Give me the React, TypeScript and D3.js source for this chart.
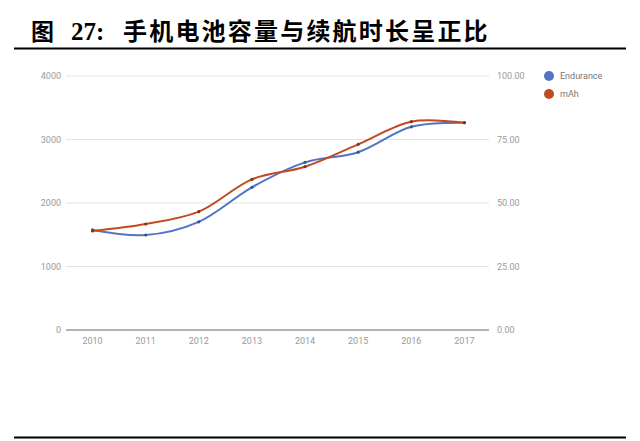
import React from "react";
import * as d3 from "d3";

// values
const years = ["2010", "2011", "2012", "2013", "2014", "2015", "2016", "2017"];
const mAh = [1560, 1669, 1864, 2373, 2572, 2924, 3281, 3265];
const endurance = [39.4, 37.4, 42.6, 56.2, 66.0, 70.0, 80.0, 81.6];
const leftTicks = [0, 1000, 2000, 3000, 4000];
const rightTicks = [0, 25, 50, 75, 100];

const series = [
	{ name: "Endurance", color: "#5274c4", values: endurance, axis: "right" },
	{ name: "mAh", color: "#c04a22", values: mAh, axis: "left" },
];

const W = 640;
const H = 441;
const plot = { left: 66, right: 491, top: 76, bottom: 330 };

export default function App() {
	const x = d3.scalePoint<string>().domain(years).range([plot.left, plot.right]).padding(0.5);
	const yLeft = d3.scaleLinear().domain([0, 4000]).range([plot.bottom, plot.top]);
	const yRight = d3.scaleLinear().domain([0, 100]).range([plot.bottom, plot.top]);

	const lineFor = (s: (typeof series)[number]) => {
		const y = s.axis === "left" ? yLeft : yRight;
		return d3
			.line<number>()
			.x((_, i) => x(years[i])!)
			.y((d) => y(d))
			.curve(d3.curveCatmullRom.alpha(0.5))(s.values)!;
	};

	const axisFont = "Roboto, 'Liberation Sans', Arial, sans-serif";
	const cjk = "'Noto Sans CJK SC'";

	return (
		<svg width={W} height={H} style={{ position: "absolute", left: 0, top: 0, background: "#fff" }}>
			{/* title */}
			<g fill="#000">
				<text x={31} y={40} fontSize={23} fontWeight={600} fontFamily={cjk}>
					图
				</text>
				<text x={71} y={40} fontSize={25} fontWeight={700} fontFamily="'Liberation Serif', serif">
					27:
				</text>
				<text x={123} y={40} fontSize={24} fontWeight={600} fontFamily={cjk} letterSpacing={2.2}>
					手机电池容量与续航时长呈正比
				</text>
			</g>
			<line x1={14} x2={626} y1={48.5} y2={48.5} stroke="#000" strokeWidth={2.2} />
			<line x1={14} x2={626} y1={437.5} y2={437.5} stroke="#000" strokeWidth={2.2} />

			{/* gridlines */}
			{leftTicks.map((t) =>
				t === 0 ? null : (
					<line key={t} x1={plot.left} x2={plot.right - 2} y1={yLeft(t)} y2={yLeft(t)} stroke="#e2e2e2" strokeWidth={1} />
				)
			)}
			<line x1={plot.left} x2={plot.right - 2} y1={plot.bottom} y2={plot.bottom} stroke="#9a9a9a" strokeWidth={1.6} />

			{/* left axis labels */}
			{leftTicks.map((t) => (
				<text key={t} x={61} y={yLeft(t)} dy="0.35em" textAnchor="end" fontSize={9} fill="#9a9a9a" fontFamily={axisFont}>
					{t}
				</text>
			))}
			{/* right axis labels */}
			{rightTicks.map((t) => (
				<text key={t} x={497} y={yRight(t)} dy="0.35em" fontSize={9} fill="#9a9a9a" fontFamily={axisFont}>
					{t.toFixed(2)}
				</text>
			))}
			{/* x labels */}
			{years.map((yr) => (
				<text key={yr} x={x(yr)} y={341} dy="0.35em" textAnchor="middle" fontSize={9} fill="#9a9a9a" fontFamily={axisFont}>
					{yr}
				</text>
			))}

			{/* lines */}
			{series.map((s) => (
				<g key={s.name}>
					<path d={lineFor(s)} fill="none" stroke={s.color} strokeWidth={2} />
					{s.values.map((v, i) => (
						<circle
							key={i}
							cx={x(years[i])}
							cy={(s.axis === "left" ? yLeft : yRight)(v)}
							r={1.6}
							fill={d3.color(s.color)!.darker(1).toString()}
						/>
					))}
				</g>
			))}

			{/* legend */}
			{series.map((s, i) => (
				<g key={s.name} transform={`translate(549,${76 + i * 18})`}>
					<circle r={5} fill={s.color} />
					<text x={11} dy="0.35em" fontSize={9} fill="#777" fontFamily={axisFont}>
						{s.name}
					</text>
				</g>
			))}
		</svg>
	);
}
